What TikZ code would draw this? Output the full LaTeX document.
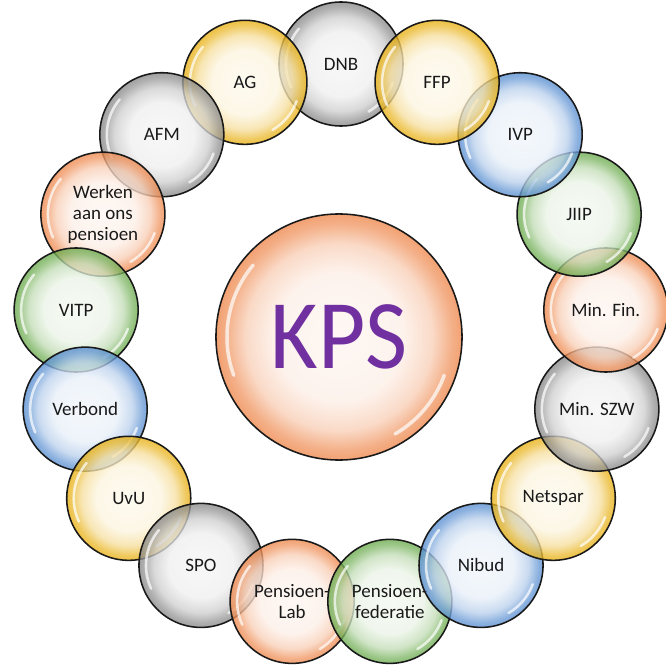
\documentclass[tikz,border=0pt]{standalone}
\usepackage{fontspec}
\setmainfont{Carlito}
\usetikzlibrary{positioning,calc}

\definecolor{bubgray}{RGB}{135,135,135}
\definecolor{bubyellow}{RGB}{232,175,15}
\definecolor{bubblue}{RGB}{85,140,208}
\definecolor{bubgreen}{RGB}{105,170,75}
\definecolor{bubred}{RGB}{238,135,75}
\definecolor{kpspurple}{RGB}{112,48,160}
\colorlet{rim}{bubgray}

\pgfdeclareradialshading[rim]{bubble}{\pgfpointorigin}{%
  color(0bp)=(rim!8!white); color(13bp)=(rim!13!white);
  color(19bp)=(rim!40!white); color(23bp)=(rim!85!white);
  color(25bp)=(rim); color(50bp)=(rim)}

\begin{document}
\begin{tikzpicture}[x=0.025cm,y=0.025cm]

  \tikzstyle{every node}=[font=\fontsize{13.5}{15}\selectfont, text=black!90]

  \tikzset{bub/.style={circle, draw=black!90, line width=1.1pt,
      minimum size=3.1cm, inner sep=0pt, align=center,
      /utils/exec={\colorlet{rim}{#1}}, shade, shading=bubble,
      fill opacity=0.78, text opacity=1}}
  \tikzset{gloss/.style={white, line width=2.5pt, opacity=0.7, line cap=round}}

  \useasboundingbox (0,0) rectangle (666,667);

  % Centre
  \coordinate (ring) at (341,332);
  \node[bub=bubred, minimum size=6.15cm, text=kpspurple,
    font=\fontsize{70}{70}\selectfont] (kps) at (339,330) {\scalebox{0.93}[1]{KPS}};
  \draw[gloss] ($(kps.center)+(200:112)$) arc[start angle=200, end angle=140, radius=112];
  \draw[gloss] ($(kps.center)+(340:112)$) arc[start angle=340, end angle=300, radius=112];

  % Partners round the centre
  \foreach \name/\lbl/\col [count=\i from 0] in {%
      dnb/DNB/bubgray, ag/AG/bubyellow, afm/AFM/bubgray,
      werken/{Werken\\aan ons\\pensioen}/bubred, vitp/VITP/bubgreen,
      verbond/Verbond/bubblue, uvu/UvU/bubyellow, spo/SPO/bubgray,
      lab/{Pensioen-\\Lab}/bubred, federatie/{Pensioen-\\federatie}/bubgreen,
      nibud/Nibud/bubblue, netspar/Netspar/bubyellow, szw/Min. SZW/bubgray,
      minfin/Min. Fin./bubred, jiip/JIIP/bubgreen, ivp/IVP/bubblue,
      ffp/FFP/bubyellow} {
    \node[bub=\col] (\name) at ($(ring)+({90+\i*360/17}:266 and 271)$) {\lbl};
    \draw[gloss, line width=1.8pt] ($(\name.center)+(205:55)$) arc[start angle=205, end angle=140, radius=55];
    \draw[gloss, line width=1.8pt] ($(\name.center)+(340:55)$) arc[start angle=340, end angle=300, radius=55];
  }

\end{tikzpicture}
\end{document}
